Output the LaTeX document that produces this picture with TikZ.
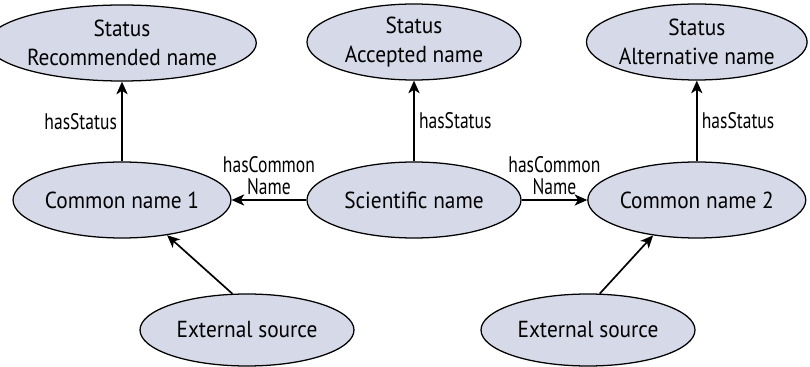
\documentclass[tikz,border=0pt]{standalone}
\usepackage{fontspec}
\setmainfont[FakeStretch=0.92]{PT Sans}
\newfontfamily\condfont[FakeStretch=0.78]{PT Sans}
\usetikzlibrary{shapes.geometric,arrows.meta}
\definecolor{nodefill}{RGB}{214,217,232}
\begin{document}
\begin{tikzpicture}[>={Stealth[length=9pt,width=8pt,inset=2.5pt]},
    term/.style={ellipse,draw,line width=0.9pt,fill=nodefill,minimum width=5.35cm,minimum height=1.9cm,inner sep=0pt,align=center,font=\fontsize{16.5}{21}\selectfont},
    rel/.style={->,line width=1.2pt},
    lab/.style={font=\condfont\fontsize{16}{16}\selectfont,align=center,inner sep=3pt}]
            \useasboundingbox(0,0)rectangle(20.25,9.175);
            \node[term](st1)at(3.05,8.1){Status\\Recommended name};
            \node[term](st2)at(10.35,8.125){Status\\Accepted name};
            \node[term](st3)at(17.42,8.125){Status\\Alternative name};
            \node[term](cn1)at(3.05,4.175){Common name 1};
            \node[term](sci)at(10.35,4.175){Scientific name};
            \node[term](cn2)at(17.42,4.175){Common name 2};
            \node[term,minimum height=1.8cm](ex1)at(6.175,0.925){External source};
            \node[term,minimum height=1.8cm](ex2)at(14.7,0.925){External source};
            \draw[rel](cn1)--node[lab,left]{hasStatus}(st1);
            \draw[rel](sci)--node[lab,right]{hasStatus}(st2);
            \draw[rel](cn2)--node[lab,right]{hasStatus}(st3);
            \draw[rel](sci)--node[lab,above]{hasCommon\\Name}(cn1);
            \draw[rel](sci)--node[lab,above]{hasCommon\\Name}(cn2);
            \draw[rel](ex1.112)--(cn1.-38);
            \draw[rel](ex2.72)--(cn2.219);
        \end{tikzpicture}
\end{document}
